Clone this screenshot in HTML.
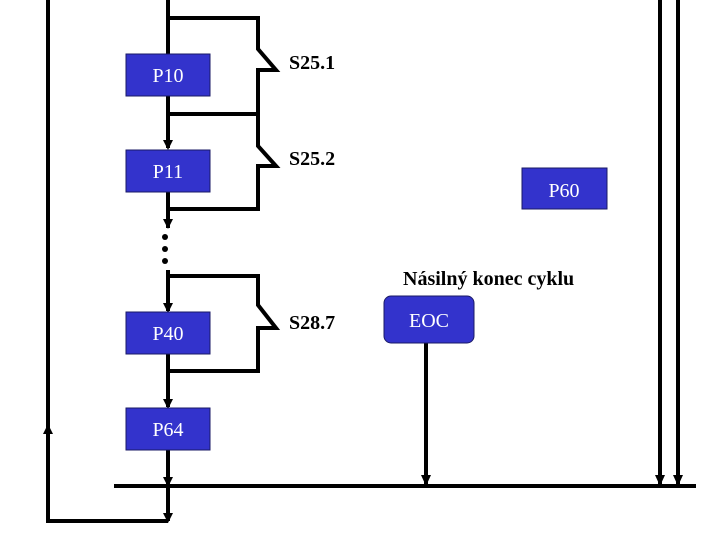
<!DOCTYPE html>
<html><head><style>
body{margin:0;background:#fff;}
svg{display:block;}
text{font-family:"Liberation Serif",serif;}
</style></head><body>
<svg width="720" height="540" viewBox="0 0 720 540" xmlns="http://www.w3.org/2000/svg">
<defs>
<marker id="a" markerWidth="10" markerHeight="10" refX="5" refY="8" orient="auto" markerUnits="userSpaceOnUse">
<path d="M0,0 L10,0 L5,9 Z" fill="#000"/>
</marker>
</defs>
<g stroke="#000" stroke-width="4" fill="none">
<!-- left loop -->
<path d="M48,0 V521 H168"/>
<path d="M48,440 V426" />
<!-- center line -->
<line x1="168" y1="0" x2="168" y2="54"/>
<line x1="168" y1="96" x2="168" y2="148"/>
<line x1="168" y1="192" x2="168" y2="228"/>
<line x1="168" y1="270" x2="168" y2="311"/>
<line x1="168" y1="354" x2="168" y2="407"/>
<line x1="168" y1="450" x2="168" y2="521"/>
<!-- branches -->
<path d="M168,18 H258 V49 L276,70 H258 V114 H168"/>
<path d="M258,114 V146 L276,166 H258 V209 H168"/>
<path d="M168,276 H258 V305 L276,328 H258 V371 H168"/>
<!-- bottom bar -->
<line x1="114" y1="486" x2="696" y2="486"/>
<!-- EOC line -->
<line x1="426" y1="343" x2="426" y2="484"/>
<line x1="660" y1="0" x2="660" y2="484"/>
<line x1="678" y1="0" x2="678" y2="484"/>
</g>
<g fill="#000">
<path d="M163,140 L173,140 L168,150 Z"/>
<path d="M163,219 L173,219 L168,229 Z"/>
<path d="M163,303 L173,303 L168,313 Z"/>
<path d="M163,399 L173,399 L168,409 Z"/>
<path d="M163,477 L173,477 L168,487 Z"/>
<path d="M163,513 L173,513 L168,523 Z"/>
<path d="M421,475 L431,475 L426,486 Z"/>
<path d="M655,475 L665,475 L660,486 Z"/>
<path d="M673,475 L683,475 L678,486 Z"/>
<path d="M43,434 L53,434 L48,424 Z"/>
<circle cx="165" cy="237" r="3"/>
<circle cx="165" cy="249" r="3"/>
<circle cx="165" cy="261" r="3"/>
</g>
<g fill="#3333cc" stroke="#1a1a66" stroke-width="1">
<rect x="126" y="54" width="84" height="42"/>
<rect x="126" y="150" width="84" height="42"/>
<rect x="126" y="312" width="84" height="42"/>
<rect x="126" y="408" width="84" height="42"/>
<rect x="522" y="168" width="85" height="41"/>
<rect x="384" y="296" width="90" height="47" rx="7"/>
</g>
<g fill="#fff" font-size="20" text-anchor="middle">
<text x="168" y="82">P10</text>
<text x="168" y="178">P11</text>
<text x="168" y="340">P40</text>
<text x="168" y="436">P64</text>
<text x="564" y="197">P60</text>
<text x="429" y="327">EOC</text>
</g>
<g fill="#000" font-size="20" font-weight="bold">
<text x="289" y="69">S25.1</text>
<text x="289" y="165">S25.2</text>
<text x="289" y="329">S28.7</text>
<text x="403" y="285">Násilný konec cyklu</text>
</g>
</svg>
</body></html>
